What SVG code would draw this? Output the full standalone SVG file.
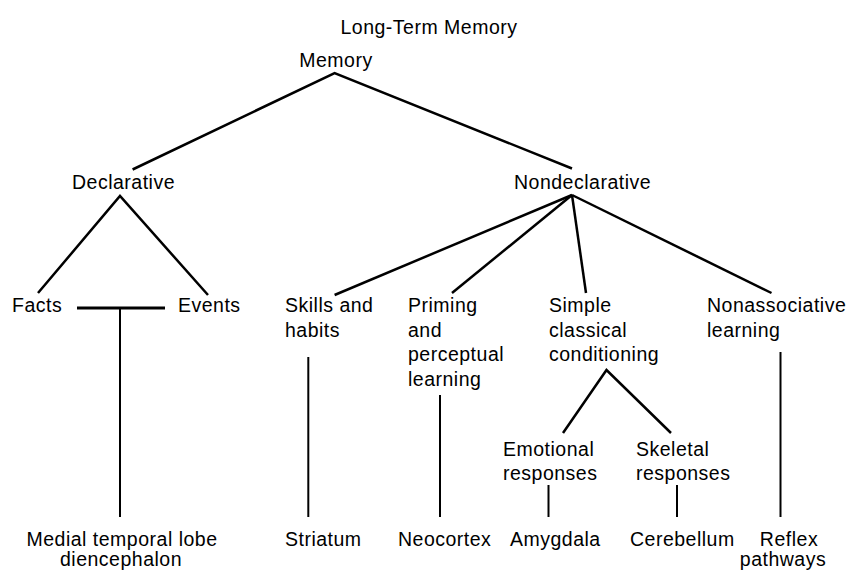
<svg xmlns="http://www.w3.org/2000/svg" width="849" height="571" viewBox="0 0 849 571">
<style>
text{font-family:"Liberation Sans",Arial,sans-serif;font-size:19.5px;letter-spacing:0.5px;fill:#000}
.m{text-anchor:middle}
line{stroke:#000;stroke-width:2.5;stroke-linecap:butt}
.v{stroke-width:2}
</style>
<rect width="849" height="571" fill="#fff"/>
<g id="title"><text x="429" y="34" class="m">Long-Term Memory</text></g>
<g id="memory"><text x="336" y="67" class="m">Memory</text></g>
<g id="declarative"><text x="72" y="189">Declarative</text></g>
<g id="nondeclarative"><text x="514" y="189">Nondeclarative</text></g>
<g id="facts"><text x="12" y="312">Facts</text></g>
<g id="events"><text x="178" y="312">Events</text></g>
<g id="skills"><text x="285" y="312">Skills and</text><text x="285" y="337">habits</text></g>
<g id="priming"><text x="408" y="312">Priming</text><text x="408" y="337">and</text><text x="408" y="361">perceptual</text><text x="408" y="386">learning</text></g>
<g id="simple"><text x="549" y="312">Simple</text><text x="549" y="337">classical</text><text x="549" y="361">conditioning</text></g>
<g id="nonassociative"><text x="707" y="312">Nonassociative</text><text x="707" y="337">learning</text></g>
<g id="emotional"><text x="503" y="456">Emotional</text><text x="503" y="480">responses</text></g>
<g id="skeletal"><text x="636" y="456">Skeletal</text><text x="636" y="480">responses</text></g>
<g id="medial"><text x="122" y="546" class="m">Medial temporal lobe</text><text x="121" y="566" class="m">diencephalon</text></g>
<g id="striatum"><text x="285" y="546">Striatum</text></g>
<g id="neocortex"><text x="398" y="546">Neocortex</text></g>
<g id="amygdala"><text x="510" y="546">Amygdala</text></g>
<g id="cerebellum"><text x="630" y="546">Cerebellum</text></g>
<g id="reflex"><text x="789" y="546" class="m">Reflex</text><text x="783" y="566" class="m">pathways</text></g>
<g id="connectors">
<polyline points="132.6,169.5 334.6,73 572,168.5" fill="none" stroke="#000" stroke-width="2.5"/>
<polyline points="38,293 120,196 208,295" fill="none" stroke="#000" stroke-width="2.5"/>
<line x1="77" y1="308" x2="165" y2="308" style="stroke-width:3"/>
<line x1="120" y1="308" x2="120" y2="517" class="v"/>
<line x1="572" y1="195" x2="334.6" y2="295"/>
<line x1="572" y1="195" x2="452" y2="293"/>
<line x1="572" y1="195" x2="586" y2="293"/>
<line x1="572" y1="195" x2="771.5" y2="293"/>
<line x1="308.3" y1="357" x2="308.3" y2="517" class="v"/>
<line x1="440" y1="395" x2="440" y2="517" class="v"/>
<line x1="780.5" y1="352" x2="780.5" y2="517" class="v"/>
<polyline points="563,433 606.5,370 671,433" fill="none" stroke="#000" stroke-width="2.5"/>
<line x1="548.5" y1="485" x2="548.5" y2="517" class="v"/>
<line x1="677" y1="485" x2="677" y2="517" class="v"/>
</g>
</svg>
